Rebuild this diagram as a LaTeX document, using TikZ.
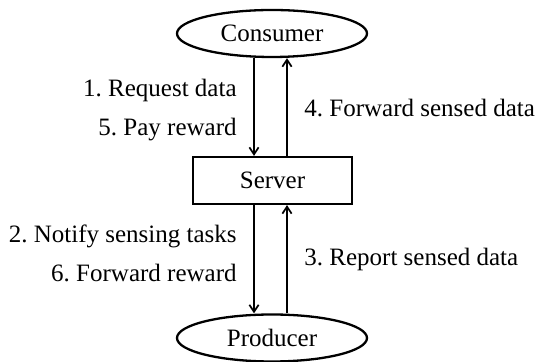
\documentclass[tikz,border=0pt]{standalone}
\usepackage{fontspec}
\setmainfont{Liberation Serif}
\usetikzlibrary{arrows.meta,shapes.geometric}
\frenchspacing

\tikzset{
  party/.style={ellipse, draw, line width=1.15pt, inner sep=0pt,
    minimum width=95pt, minimum height=23.5pt,
    text height=0.85em, text depth=0pt},
  hub/.style={rectangle, draw, line width=1.1pt, inner sep=0pt,
    minimum width=79.5pt, minimum height=23.5pt,
    text height=0.85em, text depth=0pt},
  flow/.style={line width=0.85pt, -{Straight Barb[length=3.5pt,width=4.6pt,line width=0.85pt]}},
  msg/.style={inner sep=0pt}
}

\begin{document}
\begin{tikzpicture}[x=0.5pt, y=-0.5pt, font=\fontsize{12.5}{15}\selectfont]
  \useasboundingbox (0,0) rectangle (535,362);

  % participants
  \node[party] (consumer) at (272,33.5) {Consumer};
  \node[hub]   (server)   at (272.5,180.5) {Server};
  \node[party] (producer) at (272,338) {Producer};

  % columns for the two arrow directions
  \coordinate (down) at (254,0);
  \coordinate (up)   at (287,0);

  % consumer <-> server
  \draw[flow] (consumer.south -| down) -- (server.north -| down);
  \draw[flow] (server.north -| up) -- (consumer.south -| up);

  % server <-> producer
  \draw[flow] (server.south -| down) -- (producer.north -| down);
  \draw[flow] (producer.north -| up) -- (server.south -| up);

  % message labels
  \node[msg, anchor=base east] (m1) at (237,97)  {1. Request data};
  \node[msg, anchor=base east] (m5) at (237,136) {5. Pay reward};
  \node[msg, anchor=base west] (m4) at (304,117) {4. Forward sensed data};
  \node[msg, anchor=base east] (m2) at (237,243) {2. Notify sensing tasks};
  \node[msg, anchor=base east] (m6) at (237,282) {6. Forward reward};
  \node[msg, anchor=base west] (m3) at (304,266) {3. Report sensed data};
\end{tikzpicture}
\end{document}
